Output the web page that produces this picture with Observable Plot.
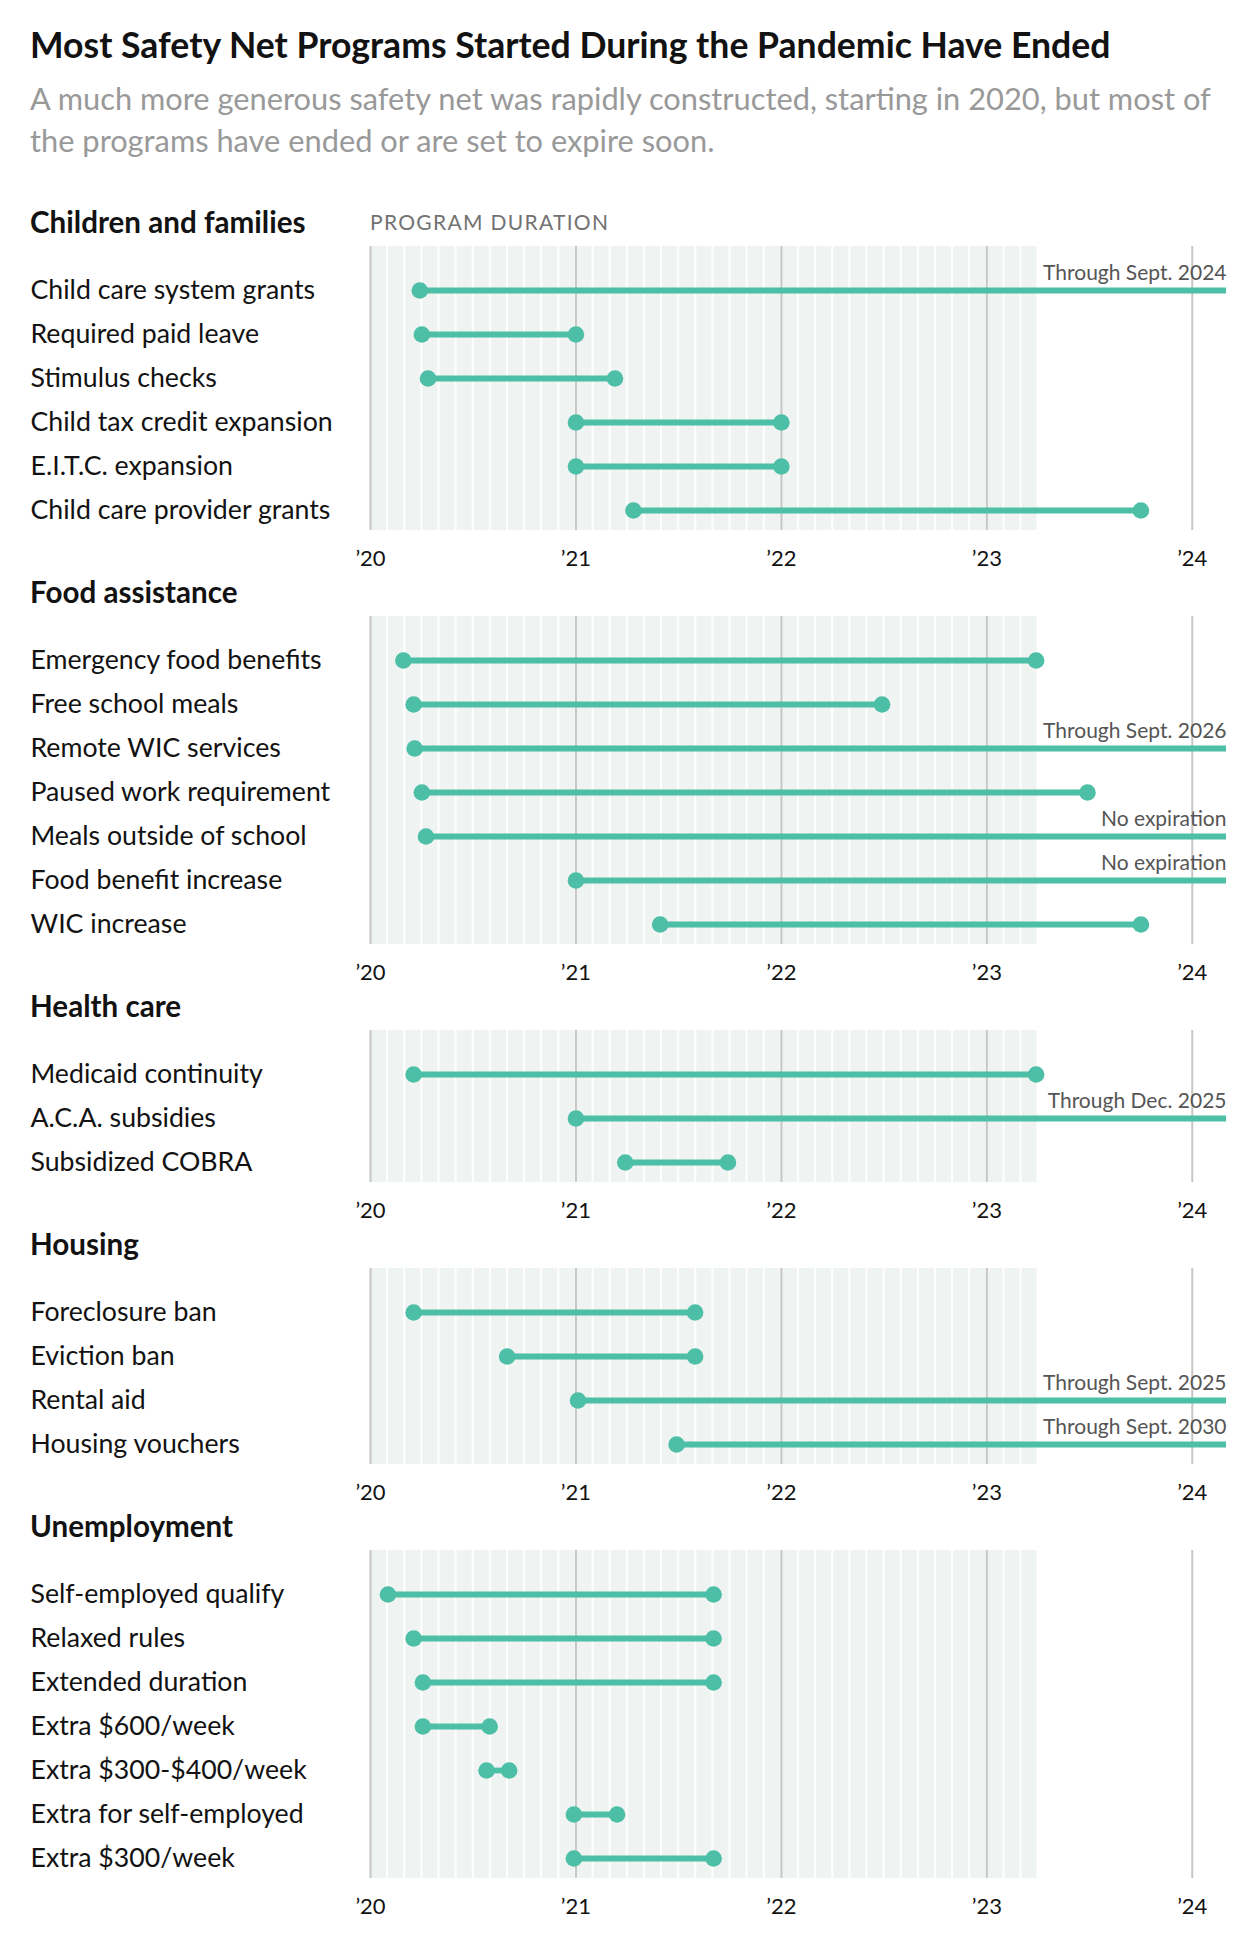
<!DOCTYPE html>
<html>
<head>
<meta charset="utf-8">
<script src="https://cdn.jsdelivr.net/npm/d3@7"></script>
<script src="https://cdn.jsdelivr.net/npm/@observablehq/plot@0.6"></script>
<style>
  body { margin: 0; background: #fff; }
  #page { position: relative; width: 1252px; padding-top: 23px; font-family: Lato, Roboto, sans-serif; }
  #title { height: 44px; line-height: 44px; font-size: 35.6px; font-weight: 700; color: #121212; padding-left: 30px; white-space: nowrap; }
  #sub { margin-top: 11px; width: 1200px; line-height: 42px; font-size: 30.8px; color: #999; padding-left: 30px; }
  #sections { margin-top: 44px; }
  .hdr { position: relative; height: 40px; line-height: 32px; font-size: 29.6px; font-weight: 700; color: #121212; padding-left: 30px; }
  .dur { position: absolute; left: 370px; top: 0; font-size: 21px; font-weight: 400; color: #727272; letter-spacing: 1.3px; }
</style>
</head>
<body>
<div id="page">
  <div id="title">Most Safety Net Programs Started During the Pandemic Have Ended</div>
  <div id="sub">A much more generous safety net was rapidly constructed, starting in 2020, but most of the programs have ended or are set to expire soon.</div>
  <div id="sections"></div>
</div>
<script>
// ---- data ----
const sectionNames = ["Children and families", "Food assistance", "Health care", "Housing", "Unemployment"];

const childrenNames = ["Child care system grants", "Required paid leave", "Stimulus checks", "Child tax credit expansion", "E.I.T.C. expansion", "Child care provider grants"];
const childrenStart = [2020.24, 2020.25, 2020.28, 2021.0, 2021.0, 2021.28];
const childrenEnd = [null, 2021.0, 2021.19, 2022.0, 2022.0, 2023.75];
const childrenNote = ["Through Sept. 2024", null, null, null, null, null];

const foodNames = ["Emergency food benefits", "Free school meals", "Remote WIC services", "Paused work requirement", "Meals outside of school", "Food benefit increase", "WIC increase"];
const foodStart = [2020.16, 2020.21, 2020.215, 2020.25, 2020.27, 2021.0, 2021.41];
const foodEnd = [2023.24, 2022.49, null, 2023.49, null, null, 2023.75];
const foodNote = [null, null, "Through Sept. 2026", null, "No expiration", "No expiration", null];

const healthNames = ["Medicaid continuity", "A.C.A. subsidies", "Subsidized COBRA"];
const healthStart = [2020.21, 2021.0, 2021.24];
const healthEnd = [2023.24, null, 2021.74];
const healthNote = [null, "Through Dec. 2025", null];

const housingNames = ["Foreclosure ban", "Eviction ban", "Rental aid", "Housing vouchers"];
const housingStart = [2020.21, 2020.665, 2021.01, 2021.49];
const housingEnd = [2021.58, 2021.58, null, null];
const housingNote = [null, null, "Through Sept. 2025", "Through Sept. 2030"];

const unemploymentNames = ["Self-employed qualify", "Relaxed rules", "Extended duration", "Extra $600/week", "Extra $300-$400/week", "Extra for self-employed", "Extra $300/week"];
const unemploymentStart = [2020.085, 2020.21, 2020.255, 2020.255, 2020.565, 2020.99, 2020.99];
const unemploymentEnd = [2021.67, 2021.67, 2021.67, 2020.58, 2020.675, 2021.2, 2021.67];
const unemploymentNote = [null, null, null, null, null, null, null];

const yearTicks = [2020, 2021, 2022, 2023, 2024];
const yearLabels = ["’20", "’21", "’22", "’23", "’24"];
const xDomain = [2020, 2024 + 2 / 12];
// pandemic shading: monthly cells, Jan 2020 through Mar 2023
const shadeFirstMonth = 2020, shadeMonthCount = 39;

// ---- build ----
const teal = "#4cbfa6";
const FONT = "Lato, Roboto, sans-serif";
const months = Array.from({length: shadeMonthCount}, (_, i) => ({x1: shadeFirstMonth + i / 12, x2: shadeFirstMonth + (i + 1) / 12}));

const sectionData = [
  [childrenNames, childrenStart, childrenEnd, childrenNote],
  [foodNames, foodStart, foodEnd, foodNote],
  [healthNames, healthStart, healthEnd, healthNote],
  [housingNames, housingStart, housingEnd, housingNote],
  [unemploymentNames, unemploymentStart, unemploymentEnd, unemploymentNote]
];

const container = document.getElementById("sections");
sectionData.forEach(([names, starts, ends, notes], si) => {
  const rows = names.map((name, i) => ({name, start: starts[i], end: ends[i], note: notes[i]}));
  const n = rows.length;
  const sec = document.createElement("div");
  const hdr = document.createElement("div");
  hdr.className = "hdr";
  hdr.textContent = sectionNames[si];
  if (si === 0) {
    const dur = document.createElement("span");
    dur.className = "dur";
    dur.textContent = "PROGRAM DURATION";
    hdr.appendChild(dur);
  }
  sec.appendChild(hdr);
  const chart = Plot.plot({
    width: 1252,
    height: 44 * n + 66,
    marginLeft: 370,
    marginRight: 26,
    marginTop: 0,
    marginBottom: 46,
    style: {fontFamily: FONT, background: "#fff"},
    x: {domain: xDomain, axis: null},
    y: {type: "point", domain: names, range: [44, 44 * n], padding: 0, axis: null},
    marks: [
      Plot.rect(months, {x1: "x1", x2: "x2", fill: "#eff3f1", insetLeft: 1, insetRight: 1}),
      Plot.ruleX(yearTicks, {stroke: "#c6c6c6", strokeWidth: 2}),
      Plot.ruleY(rows, {y: "name", x1: "start", x2: d => d.end ?? xDomain[1], stroke: teal, strokeWidth: 5.8}),
      Plot.dot(rows, {x: "start", y: "name", r: 8.3, fill: teal}),
      Plot.dot(rows.filter(d => d.end != null), {x: "end", y: "name", r: 8.3, fill: teal}),
      Plot.text(rows.filter(d => d.note), {y: "name", text: "note", frameAnchor: "right", textAnchor: "end", dy: -17, fontSize: 21, fill: "#555"}),
      Plot.axisY({tickSize: 0, tickPadding: 0, textAnchor: "start", dx: -340, fontSize: 26.7, fill: "#121212", label: null}),
      Plot.axisX({ticks: yearTicks, tickFormat: d => yearLabels[yearTicks.indexOf(d)], tickSize: 0, tickPadding: 20, fontSize: 22, fill: "#121212", label: null})
    ]
  });
  sec.appendChild(chart);
  container.appendChild(sec);
});
</script>
</body>
</html>
